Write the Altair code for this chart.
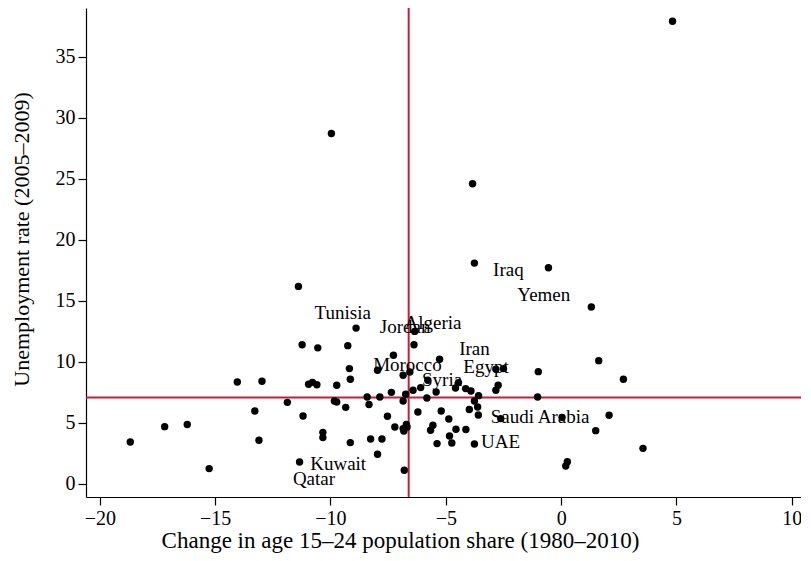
import altair as alt
import pandas as pd

# Scatter points: change in 15-24 population share vs unemployment rate
x_vals = [4.83, -9.96, -3.84, -3.76, -0.55, -11.39, -8.89, -11.23, -10.55, -9.25,
          1.31, 1.63, -0.99, 2.70, -1.02, 0.04, 2.08, 1.50, 3.55, 0.27,
          0.20, -6.35, -6.38, -5.27, -6.56, -5.78, -4.45, -4.58, -4.14, -3.91,
          -2.83, -2.50, -2.73, -2.83, -6.42, -6.09, -5.42, -5.82, -3.58, -3.76,
          -3.62, -3.98, -3.59, -5.20, -6.21, -4.87, -2.62, -5.56, -5.66, -4.56,
          -4.13, -4.84, -5.38, -4.74, -3.76, -7.27, -9.18, -9.14, -7.96, -6.85,
          -10.95, -10.78, -10.59, -9.73, -8.41, -7.86, -7.36, -6.74, -9.83, -9.73,
          -9.34, -8.33, -6.85, -11.87, -11.19, -7.53, -10.33, -10.33, -9.14, -8.26,
          -7.77, -7.96, -7.21, -6.85, -6.71, -6.82, -6.68, -11.34, -6.80, -18.68,
          -17.19, -16.21, -15.26, -14.04, -12.97, -13.28, -13.10]
y_vals = [37.92, 28.71, 24.59, 18.08, 17.70, 16.17, 12.75, 11.39, 11.13, 11.31,
          14.48, 10.08, 9.18, 8.55, 7.10, 5.43, 5.60, 4.34, 2.89, 1.80,
          1.44, 12.48, 11.39, 10.19, 9.15, 8.47, 8.28, 7.84, 7.79, 7.59,
          9.37, 9.43, 8.06, 7.65, 7.65, 7.87, 7.51, 7.02, 7.21, 6.77,
          6.28, 6.07, 5.62, 5.95, 5.87, 5.30, 5.33, 4.78, 4.37, 4.45,
          4.43, 3.90, 3.28, 3.33, 3.25, 10.52, 9.43, 8.55, 9.29, 8.88,
          8.14, 8.30, 8.11, 8.06, 7.10, 7.10, 7.48, 7.32, 6.77, 6.69,
          6.25, 6.48, 6.77, 6.66, 5.54, 5.52, 4.20, 3.77, 3.36, 3.66,
          3.66, 2.40, 4.64, 4.51, 4.84, 4.31, 4.64, 1.77, 1.09, 3.41,
          4.67, 4.84, 1.23, 8.33, 8.39, 5.95, 3.55]

# Country labels (left-anchored positions in data units)
label_names = ["Iraq", "Yemen", "Tunisia", "Jordan", "Algeria", "Iran", "Morocco",
               "Egypt", "Syria", "Saudi Arabia", "UAE", "Kuwait", "Qatar"]
label_x = [-2.95, -1.90, -10.69, -7.86, -6.79, -4.42, -8.15,
           -4.24, -6.03, -3.05, -3.47, -10.88, -11.63]
label_y = [17.55, 15.44, 13.99, 12.82, 13.14, 11.07, 9.70,
           9.54, 8.52, 5.45, 3.37, 1.64, 0.41]

# Reference lines
v_line = [-6.61]
h_line = [7.05]

points = pd.DataFrame({"x": x_vals, "y": y_vals})
labels = pd.DataFrame({"name": label_names, "x": label_x, "y": label_y})
vdf = pd.DataFrame({"x": v_line})
hdf = pd.DataFrame({"y": h_line})

FONT = "Liberation Serif"
RED = "#C41E3A"

xscale = alt.Scale(domain=[-20.6, 10.4], nice=False, zero=False)
yscale = alt.Scale(domain=[-1.1, 39.0], nice=False, zero=False)

xaxis = alt.Axis(values=[-20, -15, -10, -5, 0, 5, 10], grid=False,
                 title="Change in age 15–24 population share (1980–2010)",
                 titleX=314, titleY=43, titleAlign="center", titleBaseline="middle",
                 titleFontSize=23)
yaxis = alt.Axis(values=[0, 5, 10, 15, 20, 25, 30, 35], grid=False,
                 title="Unemployment rate (2005–2009)",
                 titleX=-65, titleY=231, titleAngle=-90,
                 titleAlign="center", titleBaseline="middle", titleFontSize=22)

vrule = alt.Chart(vdf).mark_rule(color=RED, strokeWidth=2).encode(
    x=alt.X("x:Q", scale=xscale, axis=xaxis))
hrule = alt.Chart(hdf).mark_rule(color=RED, strokeWidth=2).encode(
    y=alt.Y("y:Q", scale=yscale, axis=yaxis))

pts = alt.Chart(points).mark_circle(color="black", opacity=1, size=55).encode(
    x=alt.X("x:Q", scale=xscale, axis=xaxis),
    y=alt.Y("y:Q", scale=yscale, axis=yaxis))

txt = alt.Chart(labels).mark_text(align="left", baseline="middle", font=FONT,
                                  fontSize=19, color="black").encode(
    x=alt.X("x:Q", scale=xscale, axis=xaxis),
    y=alt.Y("y:Q", scale=yscale, axis=yaxis),
    text="name:N")

chart = alt.layer(vrule, hrule, pts, txt).properties(
    width=715, height=489,
    autosize=alt.AutoSizeParams(type="none"),
    padding={"left": 78, "top": 0, "right": 0, "bottom": 56},
    background="white",
).configure_view(stroke=None).configure_axis(
    labelFont=FONT, titleFont=FONT, labelFontSize=20,
    labelColor="black", titleColor="black", titleFontWeight="normal",
    domainColor="black", tickColor="black", domainWidth=1.2, tickWidth=1.2,
    tickSize=8, labelPadding=3,
)

chart.save("out.html", embed_options={"renderer": "svg", "actions": False})
